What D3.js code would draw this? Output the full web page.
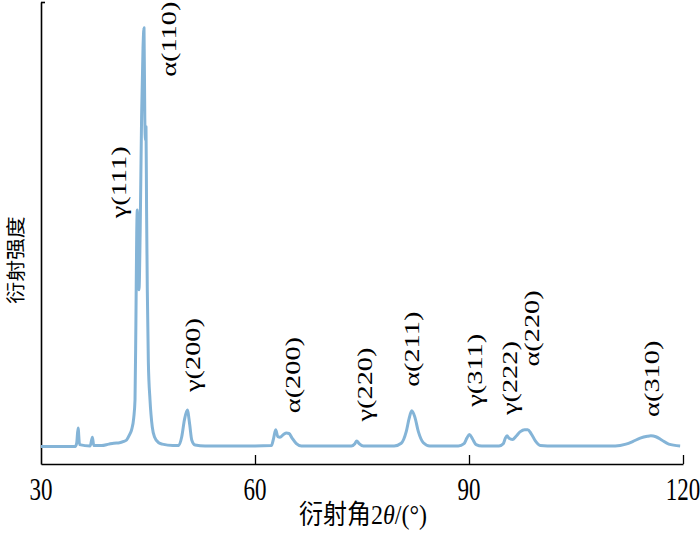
<!DOCTYPE html>
<html>
<head>
<meta charset="utf-8">
<script src="https://cdn.jsdelivr.net/npm/d3@7"></script>
<style>
  body { margin: 0; background: #fff; }
</style>
</head>
<body>
<script>
// 2θ (°) del barrido
var angulos = [30.0, 34.8, 35.0, 35.2, 35.4, 36.9, 37.2, 37.4, 38.5, 39.5, 40.2, 41.0, 41.6, 42.0, 42.4, 42.7, 43.0,
               43.18, 43.3, 43.42, 43.5, 43.6, 43.74, 43.9, 44.1, 44.3, 44.44, 44.55, 44.65, 44.72, 44.8, 44.9,
               45.05, 45.28, 45.6, 45.9, 46.5, 47.0, 48.5, 49.3, 49.73, 50.1, 50.51, 50.85, 51.13, 51.6, 53.0,
               60.0, 62.3, 62.6, 62.9, 63.2, 63.5, 64.0, 64.4, 64.77, 65.2, 65.8, 66.5, 70.0, 73.5, 74.0, 74.26,
               74.6, 75.2, 79.5, 80.5, 81.2, 81.6, 81.97, 82.4, 82.9, 83.6, 84.5, 88.5, 89.3, 89.7, 90.07, 90.5,
               91.0, 91.8, 94.2, 94.8, 95.1, 95.33, 95.6, 96.1, 96.6, 97.2, 97.8, 98.23, 98.7, 99.3, 100.0, 101.0,
               108.0, 110.5, 112.0, 113.0, 114.0, 115.0, 115.5, 116.2, 117.0, 118.0, 119.6];
// intensidad (u.a.)
var intensidades = [3.8, 3.8, 4.5, 7.8, 4.2, 3.9, 5.8, 4.0, 4.0, 4.3, 4.5, 4.6, 4.9, 5.2, 6.3, 7.4, 10,
                    13.9, 30, 50, 55, 40, 37.7, 50, 75, 90, 94.4, 75, 70, 73, 55, 38,
                    22, 13.9, 8, 5.9, 4.6, 4.3, 4.0, 4.0, 5.9, 9.5, 11.7, 8.5, 5.2, 4.1, 3.9,
                    3.9, 4.0, 5.5, 7.4, 5.9, 5.8, 6.4, 6.7, 6.6, 5.6, 4.4, 3.9, 3.9, 3.9, 4.4, 5.0,
                    4.4, 3.9, 3.9, 4.5, 7.0, 9.8, 11.5, 10.2, 7.0, 4.6, 3.9, 3.9, 4.4, 5.6, 6.4, 5.4,
                    4.2, 3.9, 3.9, 4.4, 5.6, 6.1, 5.6, 5.3, 6.0, 7.0, 7.4, 7.4, 6.6, 5.0, 4.0, 3.9,
                    3.9, 3.9, 4.3, 4.9, 5.6, 6.0, 6.1, 5.9, 5.2, 4.3, 3.9];

// etiquetas de los picos: texto, 2θ e intensidad donde empieza el texto
var etiquetas    = ["α(110)", "γ(111)", "γ(200)", "α(200)", "γ(220)", "α(211)", "γ(311)", "γ(222)", "α(220)", "α(310)"];
var etiquetasX   = [47.95, 40.94, 51.3, 65.33, 75.42, 81.97, 90.84, 95.75, 98.79, 115.66];
var etiquetasY   = [83.8, 53.2, 15.6, 11.0, 9.2, 16.7, 12.4, 10.6, 21.1, 10.2];

var ticksX = [30, 60, 90, 120];

var ancho = 700, alto = 534;
var serif = "'Liberation Serif', 'Times New Roman', Tinos, serif";
var cjk   = "'Noto Sans CJK SC', 'Noto Sans', sans-serif";

var svg = d3.select("body").append("svg")
            .attr("width", ancho)
            .attr("height", alto);

var x = d3.scaleLinear().domain([30, 120]).range([41, 683]);
var y = d3.scaleLinear().domain([0, 100]).range([464, 2]);

// ejes
var ejeX = svg.append("g")
              .attr("transform", "translate(0," + y(0) + ")")
              .call(d3.axisBottom(x).tickValues(ticksX).tickSizeInner(-9).tickSizeOuter(0).tickFormat(""));
ejeX.select(".domain").attr("stroke", "#000").attr("stroke-width", 1.6);
ejeX.selectAll(".tick line").attr("stroke", "#000").attr("stroke-width", 1.3);
ejeX.selectAll(".tick").filter(function(d) { return d == 30; }).select("line").remove();

// numeros del eje X (un poco estirados en vertical, como el original)
svg.selectAll(".numX")
   .data(ticksX)
   .enter().append("text")
   .attr("class", "numX")
   .attr("transform", function(d) { return "translate(" + x(d) + ",489) scale(1,1.4)"; })
   .attr("text-anchor", "middle")
   .attr("dy", "0.35em")
   .attr("font-family", serif)
   .attr("font-size", 23)
   .attr("fill", "#000")
   .text(function(d) { return d; });

var ejeY = svg.append("g")
              .attr("transform", "translate(" + x(30) + ",0)")
              .call(d3.axisLeft(y).tickValues([100]).tickSizeInner(-4).tickSizeOuter(0).tickFormat(""));
ejeY.select(".domain").attr("stroke", "#000").attr("stroke-width", 1.6);
ejeY.selectAll(".tick line").attr("stroke", "#000").attr("stroke-width", 1.6);

// curva de difraccion
var puntos = angulos.map(function(a, i) { return [a, intensidades[i]]; });
var linea = d3.line()
              .x(function(d) { return x(d[0]); })
              .y(function(d) { return y(d[1]); })
              .curve(d3.curveMonotoneX);

svg.append("path")
   .datum(puntos)
   .attr("d", linea)
   .attr("fill", "none")
   .attr("stroke", "#84b4d7")
   .attr("stroke-width", 3)
   .attr("stroke-linejoin", "round");

// etiquetas de picos
for (var i = 0; i < etiquetas.length; i++)
{
    var px = x(etiquetasX[i]);
    var py = y(etiquetasY[i]);
    svg.append("text")
       .attr("transform", "translate(" + px + "," + py + ") rotate(-90) scale(1.35,1)")
       .attr("dy", "0.35em")
       .attr("font-family", serif)
       .attr("font-size", 21)
       .attr("fill", "#000")
       .text(etiquetas[i]);
}

// titulos
var tituloX = svg.append("text")
   .attr("transform", "translate(" + ((x(30) + x(120)) / 2 + 1) + ",515) scale(1,1.12)")
   .attr("text-anchor", "middle")
   .attr("dy", "0.35em")
   .attr("font-size", 24)
   .attr("fill", "#000");
tituloX.append("tspan").attr("font-family", cjk).text("衍射角");
tituloX.append("tspan").attr("font-family", serif).text("2");
tituloX.append("tspan").attr("font-family", serif).attr("font-style", "italic").text("θ");
tituloX.append("tspan").attr("font-family", serif).text("/(°)");

svg.append("text")
   .attr("transform", "translate(16,260) rotate(-90) scale(1.15,1)")
   .attr("text-anchor", "middle")
   .attr("dy", "0.35em")
   .attr("font-family", cjk)
   .attr("font-size", 19)
   .attr("fill", "#000")
   .text("衍射强度");
</script>
</body>
</html>
